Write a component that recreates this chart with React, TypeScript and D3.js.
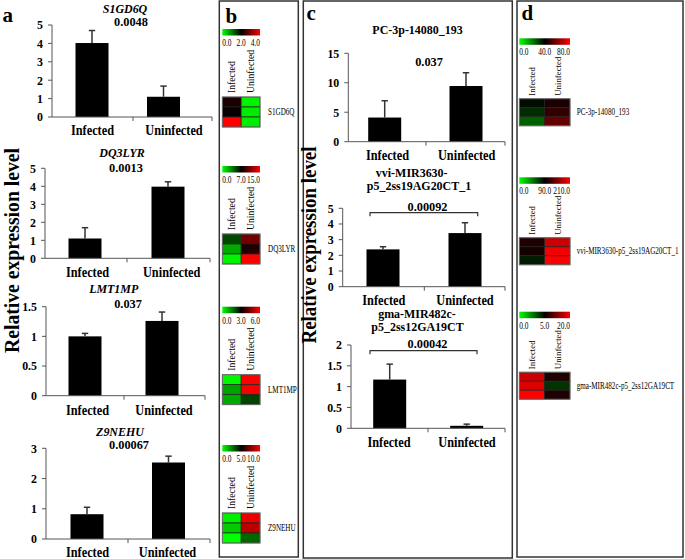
import React from "react";
import * as d3 from "d3";

const groups = ["Infected", "Uninfected"];

// Panel a: gene expression (qRT-PCR)
const geneNames = ["S1GD6Q", "DQ3LYR", "LMT1MP", "Z9NEHU"];
const genePValues = ["0.0048", "0.0013", "0.037", "0.00067"];
const geneInfectedMean = [4.02, 1.1, 1.0, 0.82];
const geneUninfectedMean = [1.1, 3.98, 1.26, 2.53];
const geneInfectedErr = [0.68, 0.6, 0.05, 0.23];
const geneUninfectedErr = [0.58, 0.27, 0.15, 0.21];
const geneYTicks = [[0, 1, 2, 3, 4, 5], [0, 1, 2, 3, 4, 5], [0, 0.5, 1, 1.5], [0, 1, 2, 3]];

// Panel c: miRNA expression
const mirTitles = [["PC-3p-14080_193"], ["vvi-MIR3630-", "p5_2ss19AG20CT_1"], ["gma-MIR482c-", "p5_2ss12GA19CT"]];
const mirPValues = ["0.037", "0.00092", "0.00042"];
const mirInfectedMean = [4.1, 2.38, 1.17];
const mirUninfectedMean = [9.45, 3.42, 0.06];
const mirInfectedErr = [2.85, 0.17, 0.37];
const mirUninfectedErr = [2.25, 0.66, 0.04];
const mirYTicks = [[0, 5, 10, 15], [0, 1, 2, 3, 4, 5], [0, 0.5, 1, 1.5, 2]];

// Panel b heatmaps (three replicates each)
const geneHeatDomains = [[0, 2, 4], [0, 7, 15], [0, 3, 6], [0, 5, 10]];
const geneHeatLabels = [["0.0", "2.0", "4.0"], ["0.0", "7.0", "15.0"], ["0.0", "3.0", "6.0"], ["0.0", "5.0", "10.0"]];
const geneHeatInfected = [[2.2, 2.05, 4.0], [5.0, 2.3, 0.3], [0.1, 1.1, 1.0], [0.3, 1.0, 0.0]];
const geneHeatUninfected = [[0.1, 0.15, 0.15], [10.6, 8.0, 15.0], [6.0, 5.9, 2.2], [9.6, 8.6, 3.0]];

// Panel d heatmaps
const mirNames = ["PC-3p-14080_193", "vvi-MIR3630-p5_2ss19AG20CT_1", "gma-MIR482c-p5_2ss12GA19CT"];
const mirHeatDomains = [[0, 40, 80], [0, 90, 210], [0, 5, 20]];
const mirHeatLabels = [["0.0", "40.0", "80.0"], ["0.0", "90.0", "210.0"], ["0.0", "5.0", "20.0"]];
const mirHeatInfected = [[38, 33, 25], [104, 100, 80], [17, 18, 20]];
const mirHeatUninfected = [[44, 48, 56], [186, 205, 208], [6.8, 4, 6.8]];

const SERIF = "'Liberation Serif', 'Times New Roman', Tinos, serif";

const geneLayouts = [
  { axisX: 52, y0: 117, yTop: 25, bars: [92, 163.5], labels: [92.5, 174], axisEnd: 212, midTick: 133, titleX: [125], titleY: [12.7], pX: 131, pY: 25.5, labelY: 135 },
  { axisX: 45, y0: 258.3, yTop: 168.3, bars: [85, 168], labels: [87.5, 171.7], axisEnd: 210, midTick: 127, titleX: [122], titleY: [157.3], pX: 126, pY: 172.3, labelY: 276.7 },
  { axisX: 46, y0: 395.7, yTop: 306.7, bars: [85, 162], labels: [87.5, 164], axisEnd: 205, midTick: 124, titleX: [113.7], titleY: [293.3], pX: 128, pY: 308.3, labelY: 415 },
  { axisX: 46, y0: 539, yTop: 448.3, bars: [87, 168.5], labels: [87.5, 167.5], axisEnd: 210, midTick: 128, titleX: [120], titleY: [436], pX: 129, pY: 448.8, labelY: 556.8 },
];

const mirLayouts = [
  { axisX: 348.3, y0: 141.7, yTop: 53.3, bars: [384.7, 466], labels: [387.5, 466.7], axisEnd: 505, midTick: 426, titleX: [417.5], titleY: [33.7], pX: 429, pY: 65.7, labelY: 160, bracket: null },
  { axisX: 342.7, y0: 286.7, yTop: 208.3, bars: [383, 465], labels: [383.8, 465], axisEnd: 505, midTick: 424.3, titleX: [411.7, 419], titleY: [177, 189.5], pX: 427.5, pY: 210.7, labelY: 305, bracket: { y: 212.7, dx1: -13, dx2: 12.7 } },
  { axisX: 351, y0: 428.3, yTop: 345, bars: [389.7, 466.7], labels: [389, 467], axisEnd: 505, midTick: 428, titleX: [417, 417.5], titleY: [318.3, 331], pX: 427.5, pY: 348.3, labelY: 446.7, bracket: { y: 350.7, dx1: -19.7, dx2: 10.3 } },
];

const geneHeatTops = [29, 166, 306.7, 445];
const mirHeatTops = [38.3, 177.3, 311.7];

function T({ x, y, children, size = 12, weight = "bold", anchor = "middle", italic = false, sx = 1, rotate = 0, textLength }: any) {
  const tr = rotate ? `translate(${x},${y}) rotate(${rotate})` : `translate(${x},${y}) scale(${sx},1)`;
  return (
    <text
      transform={tr}
      fontSize={size}
      fontWeight={weight}
      fontStyle={italic ? "italic" : "normal"}
      textAnchor={anchor}
      style={{ fontFamily: SERIF }}
      fill="#000"
      textLength={textLength}
      lengthAdjust={textLength ? "spacingAndGlyphs" : undefined}
    >
      {children}
    </text>
  );
}

function BarChart({ lay, means, errs, ticks, titles, italic, pValue }: any) {
  const yMax = ticks[ticks.length - 1];
  const y = d3.scaleLinear().domain([0, yMax]).range([lay.y0, lay.yTop]);
  const xb = d3.scalePoint<string>().domain(groups).range(lay.bars);
  const xl = d3.scalePoint<string>().domain(groups).range(lay.labels);
  const bw = 33;
  const axisColor = "#555";
  return (
    <g>
      {titles.map((t: string, i: number) => (
        <T key={t} x={lay.titleX[i]} y={lay.titleY[i]} size={13} italic={italic} sx={0.92}>{t}</T>
      ))}
      <T x={lay.pX} y={lay.pY} size={13} sx={0.95}>{pValue}</T>
      {lay.bracket && (
        <path
          d={`M${xb(groups[0])! + lay.bracket.dx1},${lay.bracket.y + 3.5}V${lay.bracket.y}H${xb(groups[1])! + lay.bracket.dx2}V${lay.bracket.y + 3.5}`}
          fill="none"
          stroke="#333"
          strokeWidth={1.2}
        />
      )}
      {groups.map((g, i) => {
        const cx = xb(g)!;
        const top = y(means[i]);
        const et = y(means[i] + errs[i]);
        return (
          <g key={g}>
            <rect x={cx - bw / 2} y={top} width={bw} height={lay.y0 - top} fill="#000" />
            <line x1={cx} x2={cx} y1={top} y2={et} stroke="#333" strokeWidth={1.5} />
            <line x1={cx - 3.2} x2={cx + 3.2} y1={et} y2={et} stroke="#333" strokeWidth={1.5} />
          </g>
        );
      })}
      <line x1={lay.axisX} x2={lay.axisX} y1={lay.y0} y2={lay.yTop} stroke={axisColor} strokeWidth={1} />
      <line x1={lay.axisX} x2={lay.axisEnd} y1={lay.y0} y2={lay.y0} stroke={axisColor} strokeWidth={1} />
      {[lay.midTick, lay.axisEnd].map((tx: number, i: number) => (
        <line key={i} x1={tx} x2={tx} y1={lay.y0} y2={lay.y0 + 4} stroke={axisColor} strokeWidth={1} />
      ))}
      {ticks.map((t: number) => (
        <g key={t}>
          <line x1={lay.axisX - 4} x2={lay.axisX} y1={y(t)} y2={y(t)} stroke={axisColor} strokeWidth={1} />
          <T x={lay.axisX - 9} y={y(t) + 4.3} size={12.5} anchor="end" sx={0.95}>{String(t)}</T>
        </g>
      ))}
      {groups.map((g) => (
        <T key={g} x={xl(g)!} y={lay.labelY} size={14} sx={0.88}>{g}</T>
      ))}
    </g>
  );
}

function Heatmap({ x0, x1, top, domain, labels, infected, uninfected, name, cellH, colOffset, cellOffset, colSize, labelX, gradId }: any) {
  const color = d3.scaleLinear<string>().domain(domain).range(["#00ff00", "#000000", "#ff0000"]).clamp(true);
  const xc = d3.scaleBand<string>().domain(groups).range([x0, x1]);
  const rows = d3.range(infected.length);
  const yr = d3.scaleBand<number>().domain(rows).range([top + cellOffset, top + cellOffset + cellH * rows.length]);
  const values = [infected, uninfected];
  return (
    <g>
      <defs>
        <linearGradient id={gradId} x1="0" x2="1" y1="0" y2="0">
          <stop offset="0" stopColor="#00ff00" />
          <stop offset="0.5" stopColor="#000000" />
          <stop offset="1" stopColor="#ff0000" />
        </linearGradient>
      </defs>
      <rect x={x0} y={top} width={x1 - x0} height={6.5} fill={`url(#${gradId})`} />
      <T x={x0} y={top + 17} size={9.5} weight="normal" anchor="start" sx={0.78}>{labels[0]}</T>
      <T x={(x0 + x1) / 2} y={top + 17} size={9.5} weight="normal" anchor="middle" sx={0.78}>{labels[1]}</T>
      <T x={x1} y={top + 17} size={9.5} weight="normal" anchor="end" sx={0.78}>{labels[2]}</T>
      {groups.map((g) => (
        <T key={g} x={xc(g)! + xc.bandwidth() / 2 + 3.2} y={top + colOffset} size={colSize} weight="normal" anchor="start" rotate={-90}>{g}</T>
      ))}
      {groups.map((g, gi) =>
        rows.map((r) => (
          <rect key={g + r} x={xc(g)!} y={yr(r)!} width={xc.bandwidth()} height={yr.bandwidth()} fill={color(values[gi][r])} stroke="#222" strokeWidth={0.7} />
        ))
      )}
      <rect x={x0} y={top + cellOffset} width={x1 - x0} height={cellH * rows.length} fill="none" stroke="#777" strokeWidth={0.8} />
      <T x={labelX} y={top + cellOffset + (cellH * rows.length) / 2 + 3} size={9.5} weight="normal" anchor="start" sx={0.75}>{name}</T>
    </g>
  );
}

export default function App() {
  return (
    <svg width={685} height={559} style={{ position: "absolute", left: 0, top: 0, background: "#fff" }}>
      <rect x={0} y={0} width={685} height={559} fill="#fff" />
      {/* panel boxes */}
      <rect x={219.3} y={1} width={79} height={556} fill="none" stroke="#333" strokeWidth={1.5} />
      <rect x={303.3} y={1} width={209} height={557} fill="none" stroke="#333" strokeWidth={1.5} />
      <rect x={517} y={1} width={166} height={556} fill="none" stroke="#333" strokeWidth={1.5} />

      {/* panel letters */}
      <T x={2.5} y={21.7} size={21} anchor="start">a</T>
      <T x={225.5} y={23.3} size={21} anchor="start">b</T>
      <T x={306.5} y={20} size={21} anchor="start">c</T>
      <T x={521.5} y={20} size={21} anchor="start">d</T>

      {/* y axis titles */}
      <T x={18.5} y={250.5} size={21.5} rotate={-90} textLength={205}>Relative expression level</T>
      <T x={316} y={245} size={20.5} rotate={-90} textLength={197}>Relative expression level</T>

      {geneNames.map((n, i) => (
        <BarChart
          key={n}
          lay={geneLayouts[i]}
          means={[geneInfectedMean[i], geneUninfectedMean[i]]}
          errs={[geneInfectedErr[i], geneUninfectedErr[i]]}
          ticks={geneYTicks[i]}
          titles={[n]}
          italic={true}
          pValue={genePValues[i]}
        />
      ))}

      {mirTitles.map((t, i) => (
        <BarChart
          key={i}
          lay={mirLayouts[i]}
          means={[mirInfectedMean[i], mirUninfectedMean[i]]}
          errs={[mirInfectedErr[i], mirUninfectedErr[i]]}
          ticks={mirYTicks[i]}
          titles={t}
          italic={false}
          pValue={mirPValues[i]}
        />
      ))}

      {geneNames.map((n, i) => (
        <Heatmap
          key={n}
          gradId={`gb${i}`}
          x0={222.3}
          x1={260}
          top={geneHeatTops[i]}
          domain={geneHeatDomains[i]}
          labels={geneHeatLabels[i]}
          infected={geneHeatInfected[i]}
          uninfected={geneHeatUninfected[i]}
          name={n}
          cellH={10}
          colOffset={64}
          cellOffset={68}
          colSize={9.7}
          labelX={268}
        />
      ))}

      {mirNames.map((n, i) => (
        <Heatmap
          key={n}
          gradId={`gd${i}`}
          x0={519.3}
          x1={570}
          top={mirHeatTops[i]}
          domain={mirHeatDomains[i]}
          labels={mirHeatLabels[i]}
          infected={mirHeatInfected[i]}
          uninfected={mirHeatUninfected[i]}
          name={n}
          cellH={9}
          colOffset={57.5}
          cellOffset={60.5}
          colSize={8.8}
          labelX={576.7}
        />
      ))}
    </svg>
  );
}
